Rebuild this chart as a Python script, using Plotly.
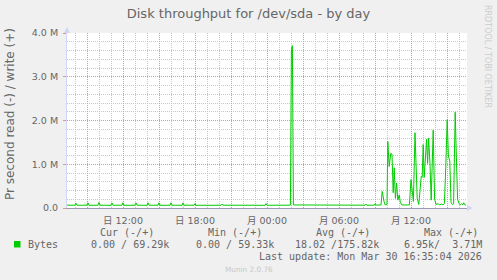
import plotly.graph_objects as go
from datetime import datetime, timedelta

# ---- data (write bytes/s, vertices) ----
times = [
    "2026-03-29 07:20", "2026-03-29 08:00", "2026-03-29 08:05", "2026-03-29 08:10",
    "2026-03-29 09:00", "2026-03-29 09:05", "2026-03-29 09:10",
    "2026-03-29 09:55", "2026-03-29 10:00", "2026-03-29 10:05",
    "2026-03-29 11:00", "2026-03-29 11:05", "2026-03-29 11:10",
    "2026-03-29 11:55", "2026-03-29 12:00", "2026-03-29 12:05",
    "2026-03-29 13:00", "2026-03-29 13:05", "2026-03-29 13:10",
    "2026-03-29 14:00", "2026-03-29 14:05", "2026-03-29 14:10",
    "2026-03-29 14:55", "2026-03-29 15:00", "2026-03-29 15:05",
    "2026-03-29 15:55", "2026-03-29 16:00", "2026-03-29 16:05",
    "2026-03-29 16:55", "2026-03-29 17:00", "2026-03-29 17:05",
    "2026-03-29 17:55", "2026-03-29 18:00", "2026-03-29 18:05",
    "2026-03-29 20:10", "2026-03-29 20:15", "2026-03-29 20:20",
    "2026-03-29 23:50", "2026-03-29 23:55", "2026-03-30 00:00",
    "2026-03-30 01:57", "2026-03-30 02:02", "2026-03-30 02:07", "2026-03-30 02:12",
    "2026-03-30 08:10", "2026-03-30 08:15", "2026-03-30 08:20",
    "2026-03-30 08:56", "2026-03-30 09:01", "2026-03-30 09:06",
    "2026-03-30 09:30", "2026-03-30 09:36", "2026-03-30 09:45", "2026-03-30 09:51",
    "2026-03-30 10:00", "2026-03-30 10:04", "2026-03-30 10:11", "2026-03-30 10:19",
    "2026-03-30 10:25", "2026-03-30 10:31", "2026-03-30 10:36", "2026-03-30 10:42",
    "2026-03-30 10:48", "2026-03-30 10:54", "2026-03-30 11:01", "2026-03-30 11:07",
    "2026-03-30 11:14", "2026-03-30 11:52", "2026-03-30 12:00", "2026-03-30 12:06",
    "2026-03-30 12:12", "2026-03-30 12:20", "2026-03-30 12:31", "2026-03-30 12:39",
    "2026-03-30 12:46", "2026-03-30 12:51", "2026-03-30 12:56", "2026-03-30 13:01",
    "2026-03-30 13:06", "2026-03-30 13:12", "2026-03-30 13:18", "2026-03-30 13:23",
    "2026-03-30 13:28", "2026-03-30 13:35", "2026-03-30 13:41", "2026-03-30 13:51",
    "2026-03-30 13:58", "2026-03-30 14:05", "2026-03-30 14:16", "2026-03-30 14:22",
    "2026-03-30 14:33", "2026-03-30 14:40", "2026-03-30 14:47", "2026-03-30 14:54",
    "2026-03-30 15:01", "2026-03-30 15:07", "2026-03-30 15:10", "2026-03-30 15:14",
    "2026-03-30 15:20", "2026-03-30 15:27", "2026-03-30 15:33", "2026-03-30 15:37",
    "2026-03-30 15:41", "2026-03-30 15:48", "2026-03-30 15:53", "2026-03-30 16:00",
    "2026-03-30 16:07", "2026-03-30 16:13", "2026-03-30 16:19", "2026-03-30 16:23",
    "2026-03-30 16:30", "2026-03-30 16:35",
]
write_bytes = [
    65e3, 64e3, 110e3, 63e3,
    64e3, 120e3, 62e3,
    63e3, 125e3, 64e3,
    62e3, 118e3, 63e3,
    64e3, 120e3, 62e3,
    63e3, 118e3, 64e3,
    62e3, 120e3, 63e3,
    64e3, 118e3, 62e3,
    63e3, 120e3, 64e3,
    62e3, 118e3, 63e3,
    64e3, 100e3, 62e3,
    63e3, 90e3, 64e3,
    62e3, 100e3, 63e3,
    65e3, 3.62e6, 3.71e6, 70e3,
    64e3, 90e3, 63e3,
    65e3, 100e3, 66e3,
    70e3, 380e3, 150e3, 70e3,
    80e3, 1.52e6, 0.95e6, 1.25e6,
    1.23e6, 350e3, 920e3, 220e3,
    570e3, 180e3, 300e3, 120e3,
    70e3, 70e3, 650e3, 450e3,
    150e3, 1.72e6, 220e3, 80e3,
    450e3, 720e3, 700e3, 1.45e6,
    700e3, 1.30e6, 1.57e6, 1.02e6,
    1.60e6, 1.00e6, 180e3, 1.78e6,
    200e3, 80e3, 100e3, 70e3,
    90e3, 70e3, 100e3, 960e3,
    2.02e6, 1.19e6, 1.13e6, 1.07e6,
    130e3, 80e3, 100e3, 820e3,
    2.19e6, 960e3, 200e3, 100e3,
    70e3, 100e3, 70e3, 120e3,
    70e3, 69.29e3,
]

y_tickvals = [0, 1e6, 2e6, 3e6, 4e6]
y_ticktext = ["0.0", "1.0 M", "2.0 M", "3.0 M", "4.0 M"]

x_tickvals = [
    "2026-03-29 09:00", "2026-03-29 12:00", "2026-03-29 15:00", "2026-03-29 18:00",
    "2026-03-29 21:00", "2026-03-30 00:00", "2026-03-30 03:00", "2026-03-30 06:00",
    "2026-03-30 09:00", "2026-03-30 12:00", "2026-03-30 15:00",
]
x_ticktext = ["", "日 12:00", "", "日 18:00", "", "月 00:00", "", "月 06:00", "", "月 12:00", ""]

title_text = "Disk throughput for /dev/sda - by day"
ylabel_text = "Pr second read (-) / write (+)"
legend_headers = ["Cur (-/+)", "Min (-/+)", "Avg (-/+)", "Max (-/+)"]
legend_values = ["0.00 / 69.29k", "0.00 / 59.33k", "18.02 /175.82k", "6.95k/  3.71M"]
series_name = "Bytes"
last_update = "Last update: Mon Mar 30 16:35:04 2026"
footer = "Munin 2.0.76"
side_text = "RRDTOOL / TOBI OETIKER"

# ---- minor grid positions (hourly / 0.2M, skipping major positions) ----
t0 = datetime(2026, 3, 29, 8, 0)
x_minor = [(t0 + timedelta(hours=h)).strftime("%Y-%m-%d %H:%M")
           for h in range(0, 33) if (8 + h) % 3 != 0]
y_minor = [k * 2e5 for k in range(1, 20) if k % 5 != 0]

# ---- layout geometry ----
W, H = 497, 280
L, R, T, B = 67, 30, 33, 72
PW, PH = W - L - R, H - T - B

def px(xp):
    return (xp - L) / PW

def py(yp):
    return (H - B - yp) / PH

GREEN = "#00CC00"
FONT_C = "#666666"
AXIS_C = "#CFD6F8"
GRID_C = "#C8C8C8"
MGRID_C = "#EE8F8F"
SANS = "DejaVu Sans, Noto Sans CJK JP, sans-serif"
MONO = "DejaVu Sans Mono, monospace"

fig = go.Figure()
fig.add_trace(go.Scatter(
    x=times, y=write_bytes, mode="lines",
    line=dict(color=GREEN, width=1), name=series_name, showlegend=False,
    hoverinfo="skip",
))

fig.update_layout(
    width=W, height=H,
    margin=dict(l=L, r=R, t=T, b=B, pad=0),
    paper_bgcolor="#F0F0F0", plot_bgcolor="#FFFFFF",
    showlegend=False,
    title=dict(text=title_text, x=0.5, xref="container", xanchor="center",
               y=1 - 13 / H, yref="container", yanchor="middle",
               font=dict(family=SANS, size=13, color=FONT_C)),
)

fig.update_xaxes(
    type="date",
    range=["2026-03-29 07:20", "2026-03-30 16:40"],
    tickmode="array", tickvals=x_tickvals, ticktext=x_ticktext,
    showgrid=True, gridcolor=MGRID_C, griddash="1px,1px", gridwidth=1,
    minor=dict(tickmode="array", tickvals=x_minor, ticks="",
               showgrid=True, gridcolor=GRID_C, griddash="1px,1px", gridwidth=1),
    showline=True, linecolor="#9a9ab4", linewidth=1,
    ticks="", ticklabelstandoff=4,
    tickfont=dict(family=SANS, size=9.5, color=FONT_C),
    zeroline=False, fixedrange=True,
)
fig.update_yaxes(
    range=[0, 4e6],
    tickmode="array", tickvals=y_tickvals, ticktext=y_ticktext,
    showgrid=True, gridcolor=MGRID_C, griddash="1px,1px", gridwidth=1,
    minor=dict(tickmode="array", tickvals=y_minor, ticks="",
               showgrid=True, gridcolor=GRID_C, griddash="1px,1px", gridwidth=1),
    showline=True, linecolor=AXIS_C, linewidth=1,
    ticks="outside", ticklen=3, tickcolor=MGRID_C, tickwidth=1,
    ticklabelstandoff=3,
    tickfont=dict(family=SANS, size=9.5, color=FONT_C),
    zeroline=False, fixedrange=True,
)

shapes = []
# axis arrows
shapes.append(dict(type="path", xref="paper", yref="paper",
                   path=f"M {px(64)},{py(33)} L {px(70)},{py(33)} L {px(67)},{py(27)} Z",
                   fillcolor=AXIS_C, line=dict(width=0)))
shapes.append(dict(type="path", xref="paper", yref="paper",
                   path=f"M {px(467)},{py(205)} L {px(467)},{py(211)} L {px(473)},{py(208)} Z",
                   fillcolor=AXIS_C, line=dict(width=0)))
# legend swatch
shapes.append(dict(type="rect", xref="paper", yref="paper",
                   x0=px(14), x1=px(20.5), y0=py(247.5), y1=py(241),
                   fillcolor=GREEN, line=dict(width=0)))
fig.update_layout(shapes=shapes)

ann = []
def text(s, x, y, size, fam, color=FONT_C, xanchor="left", angle=0):
    ann.append(dict(text=s, x=px(x), y=py(y), xref="paper", yref="paper",
                    xanchor=xanchor, yanchor="middle", showarrow=False,
                    textangle=angle,
                    font=dict(family=fam, size=size, color=color)))

text(ylabel_text, 10, 114, 12, SANS, angle=-90, xanchor="center")
text(side_text, 488, 56, 8, SANS, color="#CCCCCC", angle=90, xanchor="center")
for s, x in zip(legend_headers, [97.5, 205.9, 314.2, 421.9]):
    text(s, x, 232.7, 10, MONO)
text(series_name, 26, 244.3, 10, MONO)
for s, x in zip(legend_values, [88.5, 193.5, 292.5, 401.9]):
    text(s, x, 244.3, 10, MONO)
text(last_update, 483.5, 256.7, 10, MONO, xanchor="right")
text(footer, 248.8, 269, 7.3, SANS, color="#C8C8C8", xanchor="center")
fig.update_layout(annotations=ann)

fig.write_html("out.html")
